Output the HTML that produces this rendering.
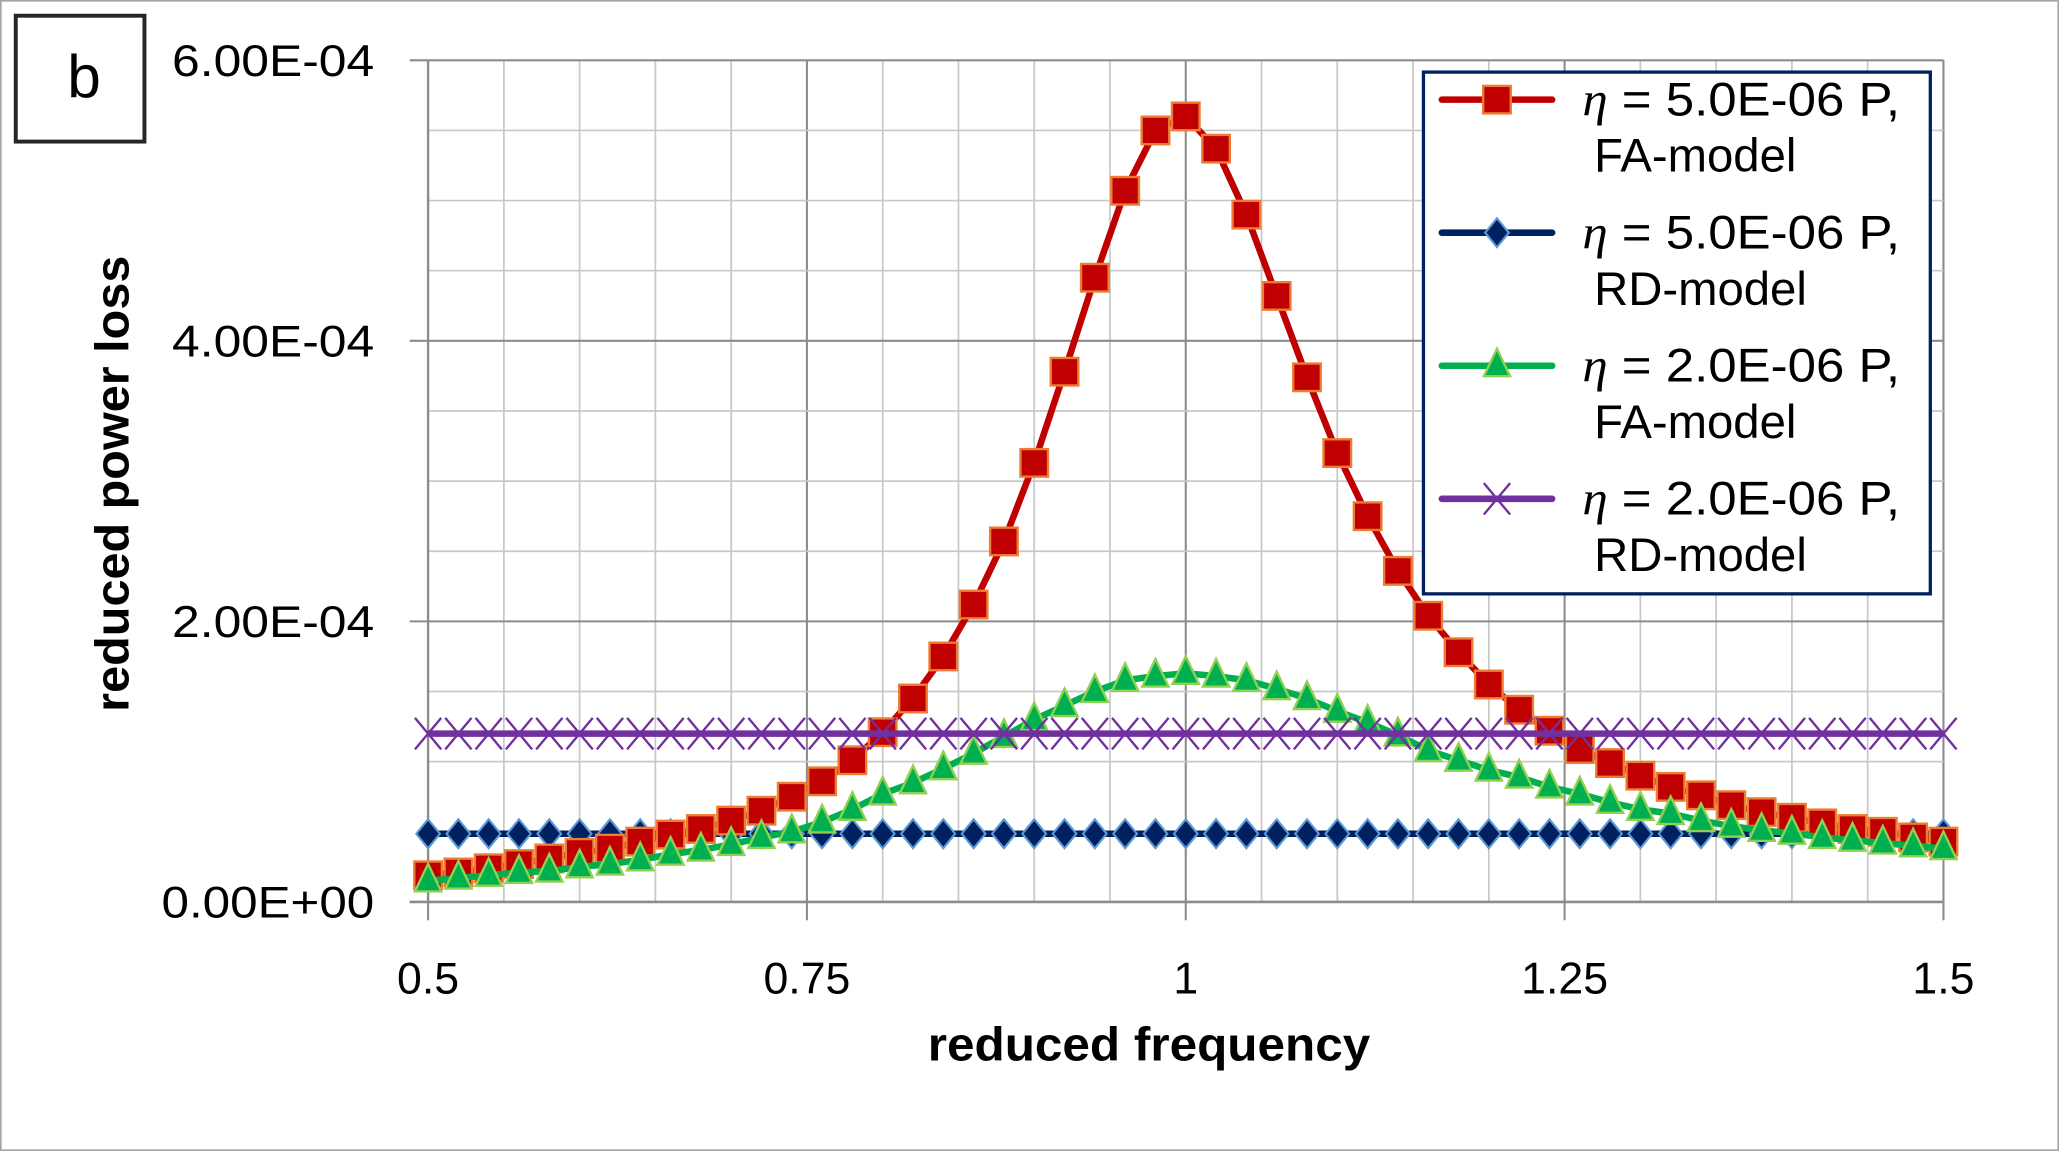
<!DOCTYPE html>
<html><head><meta charset="utf-8"><style>
html,body{margin:0;padding:0;background:#fff;width:2059px;height:1151px;overflow:hidden}
svg{display:block}
text{font-family:"Liberation Sans","DejaVu Sans",sans-serif}
</style></head><body>
<svg id="chart" width="2059" height="1151" viewBox="0 0 1568 878" preserveAspectRatio="none" xmlns="http://www.w3.org/2000/svg">
<rect x="0.5" y="0.5" width="1567" height="877" fill="#fff" stroke="#a6a6a6" stroke-width="1.5"/>
<g id="grid"></g>
<g id="axes"></g>
<g id="series"></g>
<rect x="12" y="12" width="98" height="96" fill="#fff" stroke="#262626" stroke-width="3"/>
<text x="64" y="74" font-size="46" text-anchor="middle">b</text>
<text x="875" y="809" font-size="36" font-weight="bold" text-anchor="middle" textLength="337" lengthAdjust="spacingAndGlyphs">reduced frequency</text>
<text transform="translate(98,369) rotate(-90)" font-size="36" font-weight="bold" text-anchor="middle" textLength="348" lengthAdjust="spacingAndGlyphs">reduced power loss</text>
<g id="legend">
<rect x="1084" y="55" width="386" height="398" fill="#fff" stroke="#002060" stroke-width="2.5"/>
</g>
</svg>
<script>
const xValues=[0.5,0.52,0.54,0.56,0.58,0.6,0.62,0.64,0.66,0.68,0.7,0.72,0.74,0.76,0.78,0.8,0.82,0.84,0.86,0.88,0.9,0.92,0.94,0.96,0.98,1.0,1.02,1.04,1.06,1.08,1.1,1.12,1.14,1.16,1.18,1.2,1.22,1.24,1.26,1.28,1.3,1.32,1.34,1.36,1.38,1.4,1.42,1.44,1.46,1.48,1.5];
const faHigh=[1.9e-5,2.1e-5,2.4e-5,2.7e-5,3.1e-5,3.5e-5,3.8e-5,4.3e-5,4.8e-5,5.2e-5,5.8e-5,6.5e-5,7.5e-5,8.6e-5,1.01e-4,1.21e-4,1.45e-4,1.75e-4,2.12e-4,2.57e-4,3.13e-4,3.78e-4,4.45e-4,5.07e-4,5.5e-4,5.6e-4,5.37e-4,4.9e-4,4.32e-4,3.74e-4,3.2e-4,2.75e-4,2.36e-4,2.04e-4,1.78e-4,1.55e-4,1.37e-4,1.22e-4,1.09e-4,9.9e-5,9.0e-5,8.2e-5,7.6e-5,6.9e-5,6.4e-5,6.0e-5,5.6e-5,5.2e-5,5.0e-5,4.6e-5,4.3e-5];
const faLow=[1.5e-5,1.7e-5,1.9e-5,2.1e-5,2.2e-5,2.5e-5,2.7e-5,3.0e-5,3.4e-5,3.7e-5,4.1e-5,4.6e-5,5.0e-5,5.7e-5,6.6e-5,7.7e-5,8.5e-5,9.5e-5,1.06e-4,1.18e-4,1.3e-4,1.4e-4,1.5e-4,1.58e-4,1.61e-4,1.63e-4,1.61e-4,1.58e-4,1.52e-4,1.45e-4,1.36e-4,1.28e-4,1.19e-4,1.08e-4,1.01e-4,9.4e-5,8.9e-5,8.2e-5,7.7e-5,7.1e-5,6.6e-5,6.3e-5,5.8e-5,5.4e-5,5.1e-5,4.9e-5,4.6e-5,4.4e-5,4.2e-5,4.0e-5,3.8e-5];
const rdHigh=xValues.map(()=>4.86e-5);
const rdLow=xValues.map(()=>1.2e-4);
const xTicks=[0.5,0.75,1,1.25,1.5];
const xTickLabels=["0.5","0.75","1","1.25","1.5"];
const yTicks=[0,2e-4,4e-4,6e-4];
const yTickLabels=["0.00E+00","2.00E-04","4.00E-04","6.00E-04"];
const legendLabels=[["η = 5.0E-06 P,","FA-model"],["η = 5.0E-06 P,","RD-model"],["η = 2.0E-06 P,","FA-model"],["η = 2.0E-06 P,","RD-model"]];

const NS="http://www.w3.org/2000/svg";
const X0=326,X1=1480,Y0=688,Y1=46;
function sx(v){return X0+(v-0.5)/1.0*(X1-X0);}
function sy(v){return Y0-(v/6e-4)*(Y0-Y1);}
function mk(tag,attrs,parent){const e=document.createElementNS(NS,tag);for(const k in attrs)e.setAttribute(k,attrs[k]);parent.appendChild(e);return e;}
const grid=document.getElementById('grid'),axes=document.getElementById('axes'),ser=document.getElementById('series'),leg=document.getElementById('legend');
for(let i=1;i<=20;i++){const v=0.5+i*0.05;const major=i%5===0;
 const l=mk('line',{x1:sx(v),x2:sx(v),y1:Y1,y2:Y0,stroke:major?'#8c8c8c':'#c8c8c8','stroke-width':major?1.6:1.3},grid);
 
 }
for(let i=1;i<=12;i++){const v=i*0.5e-4;const major=i%4===0;
 const l=mk('line',{x1:X0,x2:X1,y1:sy(v),y2:sy(v),stroke:major?'#8c8c8c':'#c8c8c8','stroke-width':major?1.6:1.3},grid);
 
 }
let a=mk('line',{x1:X0,x2:X0,y1:Y1,y2:Y0,stroke:'#8c8c8c','stroke-width':1.8},axes);


a=mk('line',{x1:X0-14,x2:X1,y1:Y0,y2:Y0,stroke:'#8c8c8c','stroke-width':2},axes);


xTicks.forEach((v,i)=>{
 const t=mk('line',{x1:sx(v),x2:sx(v),y1:Y0,y2:Y0+14,stroke:'#8c8c8c','stroke-width':1.6},axes);
 
 
 const tx=mk('text',{x:sx(v),y:758,'font-size':34,'text-anchor':'middle',fill:'#000'},axes);tx.textContent=xTickLabels[i];
 
 });
yTicks.forEach((v,i)=>{
 const tx=mk('text',{x:285,y:sy(v)+12,'font-size':34,'text-anchor':'end',fill:'#000',textLength:i===0?162:154,lengthAdjust:'spacingAndGlyphs'},axes);tx.textContent=yTickLabels[i];
 
 
 const t=mk('line',{x1:X0-14,x2:X0,y1:sy(v),y2:sy(v),stroke:'#8c8c8c','stroke-width':1.6},axes);
 
 });
function marker(type,x,y,g){let e;
 if(type==='square')e=mk('rect',{x:x-10.5,y:y-10.5,width:21,height:21,fill:'#c00000',stroke:'#ed7d31','stroke-width':1.8},g);
 else if(type==='diamond')e=mk('polygon',{points:`${x},${y-11} ${x+9},${y} ${x},${y+11} ${x-9},${y}`,fill:'#002060',stroke:'#5b9bd5','stroke-width':1.6},g);
 else if(type==='triangle')e=mk('polygon',{points:`${x},${y-13} ${x+10},${y+8} ${x-10},${y+8}`,fill:'#00b050',stroke:'#92d050','stroke-width':1.8},g);
 else{e=mk('path',{d:`M${x-10},${y-12} L${x+10},${y+12} M${x+10},${y-12} L${x-10},${y+12}`,stroke:'#7030a0','stroke-width':1.8,fill:'none'},g);}
 return e;}
const seriesDefs=[
 {name:'series-fa-5e-6',vals:faHigh,color:'#c00000',m:'square'},
 {name:'series-rd-5e-6',vals:rdHigh,color:'#002060',m:'diamond'},
 {name:'series-fa-2e-6',vals:faLow,color:'#00b050',m:'triangle'},
 {name:'series-rd-2e-6',vals:rdLow,color:'#7030a0',m:'cross'}];
const order=[1,0,2,3];
order.forEach(si=>{const s=seriesDefs[si];
 const g=mk('g',{},ser);
 
 
 const pts=xValues.map((x,i)=>sx(x)+','+sy(s.vals[i])).join(' ');
 const pl=mk('polyline',{points:pts,fill:'none',stroke:s.color,'stroke-width':5,'stroke-linejoin':'round'},g);
 
 
 xValues.forEach((x,i)=>{const m=marker(s.m,sx(x),sy(s.vals[i]),g);
  
  });
});
seriesDefs.forEach((s,i)=>{const y=76+i*101.5;
 const g=mk('g',{},leg);
 
 
 mk('line',{x1:1098,x2:1182,y1:y,y2:y,stroke:s.color,'stroke-width':5,'stroke-linecap':'round'},g);
 marker(s.m,1140,y,g);
 const t1=mk('text',{x:1205,y:y+12,'font-size':36,fill:'#000',textLength:242,lengthAdjust:'spacingAndGlyphs'},g);
 const eta=mk('tspan',{'font-style':'italic','font-family':'"Liberation Serif",serif'},t1);eta.textContent='η';
 const rest=mk('tspan',{},t1);rest.textContent=legendLabels[i][0].slice(1);
 
 
 const t2=mk('text',{x:1214,y:y+55,'font-size':36,fill:'#000'},g);t2.textContent=legendLabels[i][1];
 
 
});
</script>
</body></html>
